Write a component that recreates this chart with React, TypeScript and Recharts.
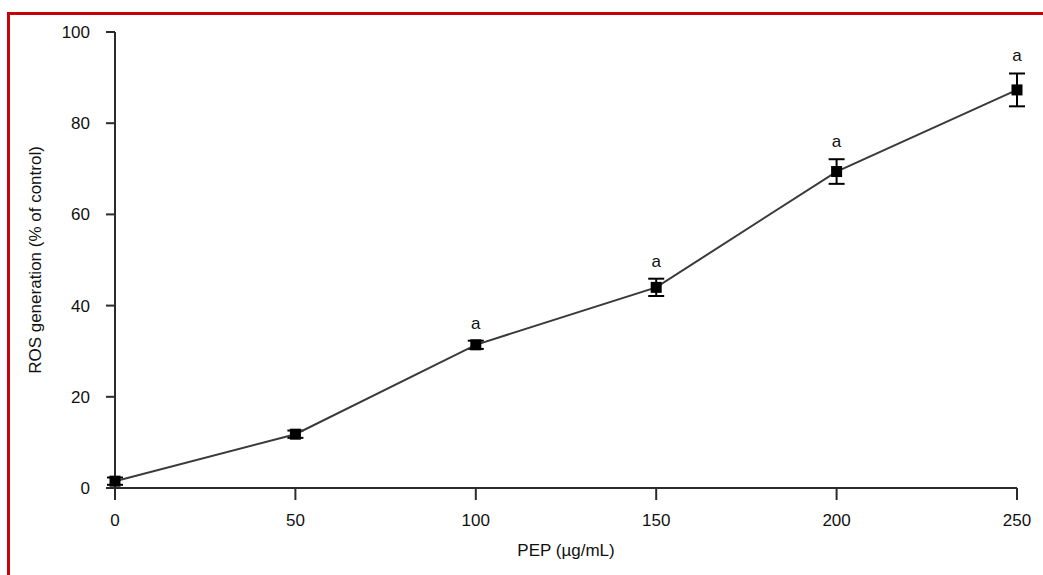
import React from "react";
import {
  ErrorBar,
  LabelList,
  Line,
  LineChart,
  XAxis,
  YAxis,
} from "recharts";

const doses = [0, 50, 100, 150, 200, 250];
const ros = [1.5, 11.8, 31.4, 44.0, 69.4, 87.3];
const sem = [0.8, 0.8, 0.9, 1.9, 2.7, 3.6];
const sig = ["", "", "a", "a", "a", "a"];

const xTicks = [0, 50, 100, 150, 200, 250];
const yTicks = [0, 20, 40, 60, 80, 100];

const data = doses.map((d, i) => ({
  dose: d,
  ros: ros[i],
  err: sem[i],
  sig: sig[i],
}));

const font = "'Liberation Sans', Arial, sans-serif";
const axisColor = "#2b2b2b";
const tickStyle = { fill: "#111", fontSize: 17, fontFamily: font };

function SquareDot(props: any) {
  const { cx, cy } = props;
  if (cx == null || cy == null) return null;
  const s = 11;
  return <rect x={cx - s / 2} y={cy - s / 2} width={s} height={s} fill="#000" />;
}

export default function App() {
  return (
    <div
      style={{
        position: "absolute",
        left: 0,
        top: 0,
        width: 1043,
        height: 575,
        background: "#fff",
        overflow: "hidden",
      }}
    >
      {/* red frame, only top and left visible */}
      <div style={{ position: "absolute", left: 7, top: 12, width: 1036, height: 3, background: "#c8000a" }} />
      <div style={{ position: "absolute", left: 7, top: 12, width: 3, height: 563, background: "#c8000a" }} />

      <div style={{ position: "absolute", left: 0, top: 0 }}>
        <LineChart
          width={1043}
          height={575}
          data={data}
          margin={{ top: 32, right: 26, left: 55, bottom: 57 }}
        >
          <XAxis
            dataKey="dose"
            type="number"
            domain={[0, 250]}
            ticks={xTicks}
            tick={tickStyle}
            tickSize={12}
            tickMargin={14}
            height={30}
            stroke={axisColor}
            strokeWidth={2}
          />
          <YAxis
            type="number"
            domain={[0, 100]}
            ticks={yTicks}
            tick={tickStyle}
            tickSize={9}
            tickMargin={16}
            width={60}
            stroke={axisColor}
            strokeWidth={2}
          />
          <Line
            dataKey="ros"
            stroke="#3a3a3a"
            strokeWidth={2}
            dot={<SquareDot />}
            activeDot={false}
            isAnimationActive={false}
          >
            <ErrorBar dataKey="err" direction="y" width={8} stroke="#000" strokeWidth={2} />
          </Line>
          <Line
            dataKey={(d: any) => d.ros + d.err}
            stroke="none"
            dot={false}
            activeDot={false}
            isAnimationActive={false}
          >
            <LabelList
              dataKey="sig"
              position="top"
              offset={12}
              style={{ fill: "#111", fontSize: 17, fontFamily: font }}
            />
          </Line>
          <text
            x={35}
            y={260}
            transform="rotate(-90 35 260)"
            textAnchor="middle"
            dominantBaseline="central"
            fill="#111"
            fontSize={17}
            fontFamily={font}
          >
            ROS generation (% of control)
          </text>
          <text
            x={566}
            y={550}
            textAnchor="middle"
            dominantBaseline="central"
            fill="#111"
            fontSize={17}
            fontFamily={font}
          >
            PEP (µg/mL)
          </text>
        </LineChart>
      </div>
    </div>
  );
}
